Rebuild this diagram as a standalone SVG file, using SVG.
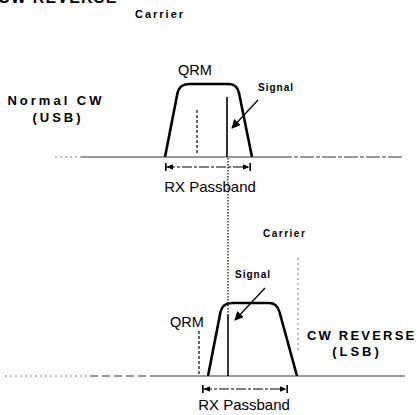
<svg xmlns="http://www.w3.org/2000/svg" width="417" height="415" viewBox="0 0 417 415">
<style>
.lbl{font-family:"Liberation Sans",Arial,sans-serif;fill:#000}
.b{font-weight:bold}
.trap{fill:none;stroke:#000;stroke-width:2.6;stroke-linejoin:round}
.base{stroke:#333;stroke-width:1.2;fill:none}
.faint{stroke:#777;stroke-width:1;stroke-dasharray:2 3;fill:none}
.sig{stroke:#000;stroke-width:1.6}
.qrm{stroke:#000;stroke-width:1.2;stroke-dasharray:3 2}
.car{stroke:#000;stroke-width:1.2;stroke-dasharray:1.5 1.5}
.pb{stroke:#000;stroke-width:1.2;stroke-dasharray:10 2 3 2}
.arr{stroke:#000;stroke-width:1.3}
</style>
<defs>
<marker id="ah" viewBox="0 0 10 10" refX="9" refY="5" markerWidth="9" markerHeight="9" markerUnits="userSpaceOnUse" orient="auto">
<path d="M0,0 L10,5 L0,10 Z" fill="#000"/>
</marker>
<marker id="pbend" viewBox="0 0 10 10" refX="10" refY="5" markerWidth="8" markerHeight="8" markerUnits="userSpaceOnUse" orient="auto-start-reverse">
<path d="M0,1.5 L8,5 L0,8.5 Z M8,0 H10 V10 H8 Z" fill="#000"/>
</marker>
</defs>
<text class="lbl b" x="-2" y="2.5" font-size="16" letter-spacing="1.2" fill="#333">CW REVERSE</text>
<g id="upper">
<g id="upper-labels">
<text class="lbl b" x="135" y="18" font-size="11" letter-spacing="2">Carrier</text>
<text class="lbl" x="195" y="75" font-size="14.5" text-anchor="middle">QRM</text>
<text class="lbl b" x="258" y="91" font-size="10" letter-spacing="1">Signal</text>
<text class="lbl b" x="56" y="105" font-size="13" letter-spacing="3" text-anchor="middle">Normal CW</text>
<text class="lbl b" x="58" y="122" font-size="13" letter-spacing="3" text-anchor="middle">(USB)</text>
<text class="lbl" x="210" y="192" font-size="15" text-anchor="middle">RX Passband</text>
</g>
<path id="upper-filter" class="trap" d="M165,157 L177.5,93 Q179.5,84 189,84 L229,84 Q237,84 239,93 L252,157"/>
</g>
<g id="lower">
<g id="lower-labels">
<text class="lbl b" x="263" y="237" font-size="10" letter-spacing="1.5">Carrier</text>
<text class="lbl b" x="235" y="278" font-size="10" letter-spacing="1">Signal</text>
<text class="lbl" x="187" y="327" font-size="14.5" text-anchor="middle">QRM</text>
<text class="lbl b" x="307" y="340" font-size="13" letter-spacing="2.2">CW REVERSE</text>
<text class="lbl b" x="357" y="356" font-size="13" letter-spacing="3" text-anchor="middle">(LSB)</text>
<text class="lbl" x="244" y="410" font-size="15" text-anchor="middle">RX Passband</text>
</g>
<path id="lower-filter" class="trap" d="M208,376 L220.5,312 Q222.5,303 232,303 L269,303 Q277,303 279.5,312 L297,376"/>
</g>
<g id="connectors">
<line class="faint" x1="55" y1="157" x2="82" y2="157"/>
<line class="base" x1="82" y1="157" x2="278" y2="157"/>
<line class="base" x1="278" y1="157" x2="402" y2="157" stroke-dasharray="14 2 4 2" stroke="#555"/>
<line class="faint" x1="5" y1="376" x2="90" y2="376"/>
<line class="base" x1="90" y1="376" x2="150" y2="376" stroke-dasharray="8 4" stroke="#555"/>
<line class="base" x1="150" y1="376" x2="405" y2="376"/>
<line class="sig" x1="227" y1="97" x2="227" y2="157"/>
<line class="sig" x1="228" y1="315" x2="228" y2="376"/>
<line class="qrm" x1="197" y1="110" x2="197" y2="155"/>
<line class="qrm" x1="199" y1="331" x2="199" y2="375"/>
<line class="car" x1="228" y1="158" x2="228" y2="315"/>
<line class="faint" x1="298" y1="258" x2="298" y2="350"/>
<line class="arr" x1="258" y1="100" x2="232" y2="128" marker-end="url(#ah)"/>
<line class="arr" x1="265" y1="288" x2="235" y2="320" marker-end="url(#ah)"/>
<line class="pb" x1="165" y1="167" x2="251" y2="167" marker-start="url(#pbend)" marker-end="url(#pbend)"/>
<line class="pb" x1="202" y1="389" x2="288" y2="389" marker-start="url(#pbend)" marker-end="url(#pbend)"/>
</g>
</svg>
